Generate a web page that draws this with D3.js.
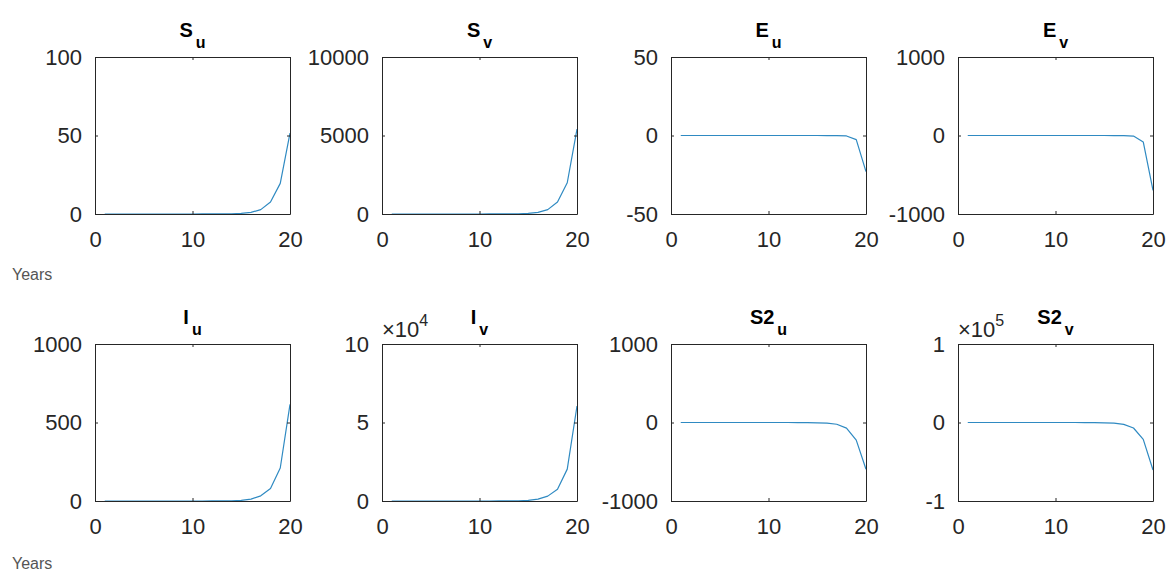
<!DOCTYPE html>
<html>
<head>
<meta charset="utf-8">
<script src="https://cdn.jsdelivr.net/npm/d3@7"></script>
<style>
  html, body { margin: 0; padding: 0; background: #fff; }
  svg { display: block; font-family: "Liberation Sans", Arial, Helvetica, sans-serif; }
</style>
</head>
<body>
<svg id="chart" width="1169" height="572"></svg>
<script>
(function () {
  'use strict';

  /* ---- Data ---- */
  const YEARS = d3.range(1, 21);
  const X_TICKS = [0, 10, 20];

  const S_u  = [0, 0, 0, 0, 0, 0, 0, 0, 0.01, 0.01, 0.02, 0.03, 0.05, 0.14, 0.38, 1.0, 2.8, 7.6, 19.5, 51.5];
  const S_v  = [0, 0, 0, 0, 0, 0, 0, 0, 1, 1, 2, 3, 5, 14, 38, 100, 280, 760, 1990, 5400];
  const E_u  = [0, 0, 0, 0, 0, 0, 0, 0, 0, 0, 0, 0, 0, 0, -0.01, -0.03, -0.06, -0.3, -2.6, -23];
  const E_v  = [0, 0, 0, 0, 0, 0, 0, 0, 0, 0, 0, 0, 0, -0.1, -0.2, -0.5, -1, -7, -82, -700];
  const I_u  = [0, 0, 0, 0, 0, 0, 0, 0, 0, 0.05, 0.1, 0.2, 0.5, 1.5, 4.5, 12, 33, 80, 210, 615];
  const I_v  = [0, 0, 0, 0, 0, 0, 0, 0, 0, 5, 10, 20, 50, 150, 420, 1150, 3100, 7500, 20300, 60500];
  const S2_u = [0, 0, 0, 0, 0, 0, 0, 0, 0, 0, -0.1, -0.3, -0.8, -2, -4, -8, -22, -72, -225, -595];
  const S2_v = [0, 0, 0, 0, 0, 0, 0, 0, 0, 0, -10, -30, -80, -200, -450, -900, -2400, -7000, -21500, -60500];

  const PANELS = [
    { name: 'S',  sub: 'u', values: S_u,  yDomain: [0, 100],      yTicks: [0, 50, 100],        exp: 0 },
    { name: 'S',  sub: 'v', values: S_v,  yDomain: [0, 10000],    yTicks: [0, 5000, 10000],    exp: 0 },
    { name: 'E',  sub: 'u', values: E_u,  yDomain: [-50, 50],     yTicks: [-50, 0, 50],        exp: 0 },
    { name: 'E',  sub: 'v', values: E_v,  yDomain: [-1000, 1000], yTicks: [-1000, 0, 1000],    exp: 0 },
    { name: 'I',  sub: 'u', values: I_u,  yDomain: [0, 1000],     yTicks: [0, 500, 1000],      exp: 0 },
    { name: 'I',  sub: 'v', values: I_v,  yDomain: [0, 100000],   yTicks: [0, 50000, 100000],  exp: 4 },
    { name: 'S2', sub: 'u', values: S2_u, yDomain: [-1000, 1000], yTicks: [-1000, 0, 1000],    exp: 0 },
    { name: 'S2', sub: 'v', values: S2_v, yDomain: [-1e5, 1e5],   yTicks: [-1e5, 0, 1e5],      exp: 5 },
  ];

  /* ---- Layout ---- */
  const COL_X = [95, 382, 671, 958];
  const ROW_Y = [57, 344];
  const PW = 195, PH = 157;
  const LINE_COLOR = '#2f8ac2';
  const TEXT_COLOR = '#262626';
  const TICK_FONT = '22px';

  const svg = d3.select('#chart');

  PANELS.forEach((p, i) => {
    const col = i % 4, row = Math.floor(i / 4);
    const g = svg.append('g')
      .attr('transform', `translate(${COL_X[col]},${ROW_Y[row]})`);

    const x = d3.scaleLinear().domain([0, 20]).range([0, PW]);
    const y = d3.scaleLinear().domain(p.yDomain).range([PH, 0]);
    const div = Math.pow(10, p.exp);

    // plot line
    g.append('path')
      .datum(YEARS.map((yr, k) => [yr, p.values[k]]))
      .attr('fill', 'none')
      .attr('stroke', LINE_COLOR)
      .attr('stroke-width', 1.2)
      .attr('stroke-linejoin', 'round')
      .attr('d', d3.line().x(d => x(d[0])).y(d => y(d[1])));

    // axes (ticks point inward, like MATLAB)
    const styleAxis = sel => {
      sel.selectAll('.domain').attr('stroke', TEXT_COLOR).attr('stroke-width', 1);
      sel.selectAll('.tick line').attr('stroke', TEXT_COLOR);
      sel.selectAll('.tick text')
        .attr('fill', TEXT_COLOR)
        .style('font-size', TICK_FONT)
        .style('font-family', '"Liberation Sans", Arial, sans-serif');
    };

    g.append('g')
      .attr('transform', `translate(0,${PH})`)
      .call(d3.axisBottom(x).tickValues(X_TICKS).tickSizeInner(-3).tickSizeOuter(0).tickPadding(17))
      .call(styleAxis);
    g.append('g')
      .call(d3.axisLeft(y).tickValues(p.yTicks).tickSizeInner(-3).tickSizeOuter(0).tickPadding(13)
        .tickFormat(v => String(Math.round(v / div))))
      .call(styleAxis);
    g.append('g')
      .call(d3.axisTop(x).tickValues(X_TICKS).tickSizeInner(-3).tickSizeOuter(0).tickFormat(''))
      .call(styleAxis);
    g.append('g')
      .attr('transform', `translate(${PW},0)`)
      .call(d3.axisRight(y).tickValues(p.yTicks).tickSizeInner(-3).tickSizeOuter(0).tickFormat(''))
      .call(styleAxis);

    // exponent label
    if (p.exp) {
      const t = g.append('text')
        .attr('x', 0)
        .attr('y', -7)
        .attr('fill', TEXT_COLOR)
        .style('font-size', TICK_FONT);
      t.append('tspan').text('\u00d710');
      t.append('tspan').attr('dy', -11).style('font-size', '16px').text(p.exp);
    }

    // title
    const title = g.append('text')
      .attr('x', PW / 2)
      .attr('y', -20)
      .attr('text-anchor', 'middle')
      .attr('fill', '#000')
      .style('font-weight', 'bold')
      .style('font-size', '20px');
    title.append('tspan').text(p.name);
    title.append('tspan').attr('dy', 11).attr('dx', 3).style('font-size', '16px').text(p.sub);
  });

  /* ---- "Years" labels ---- */
  [280, 569].forEach(yy => {
    svg.append('text')
      .attr('x', 12)
      .attr('y', yy)
      .attr('fill', '#555')
      .style('font-size', '16px')
      .text('Years');
  });
})();
</script>
</body>
</html>
